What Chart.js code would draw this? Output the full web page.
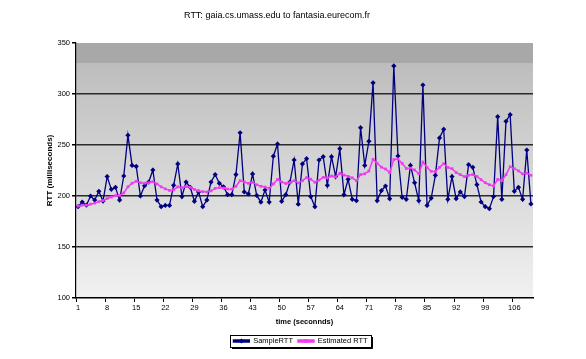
<!DOCTYPE html>
<html><head><meta charset="utf-8">
<style>html,body{margin:0;padding:0;background:#fff;}#wrap{width:586px;height:359px;}</style>
<script src="https://cdn.jsdelivr.net/npm/chart.js@4.4.0/dist/chart.umd.min.js"></script>
</head><body><div id="wrap"><canvas id="c" width="586" height="359"></canvas></div>
<script>
const chartTitle = 'RTT: gaia.cs.umass.edu to fantasia.eurecom.fr';
const xAxisTitle = 'time (seconnds)';
const yAxisTitle = 'RTT (milliseconds)';
const seriesNames = ['SampleRTT', 'Estimated RTT'];

const timeLabels = ['1','2','3','4','5','6','7','8','9','10','11','12','13','14','15','16','17','18','19','20',
'21','22','23','24','25','26','27','28','29','30','31','32','33','34','35','36','37','38','39','40',
'41','42','43','44','45','46','47','48','49','50','51','52','53','54','55','56','57','58','59','60',
'61','62','63','64','65','66','67','68','69','70','71','72','73','74','75','76','77','78','79','80',
'81','82','83','84','85','86','87','88','89','90','91','92','93','94','95','96','97','98','99','100',
'101','102','103','104','105','106','107','108','109','110'];

const shownTimeTicks = ['1','8','15','22','29','36','43','50','57','64','71','78','85','92','99','106'];
const yTickValues = [100, 150, 200, 250, 300, 350];

const sampleRTT = [189.5,194,191,200,196,204.6,195,219,206.5,208.5,
196,219.6,259.5,230,229,200,210,213.7,225.5,196,
189.5,190.8,190.8,210.5,231.4,199.4,213.7,208.5,194.8,204,
189.5,196,213.7,221,212.4,209,201.3,201.3,221,262,
204,202,221.6,200.6,194,205.9,194,239,251,194.8,
201.3,213.7,235.3,192,231.4,236.6,199.4,189.5,235.3,238.6,
210.5,238.6,219,246.4,201.3,216.3,196.7,195.4,267,230,
253.6,311,195.4,205.2,209.8,197.4,327.5,239.2,198.7,196.7,
230,213,195.4,308.8,190.8,198,220.3,256.9,265.4,196.7,
219,197.4,204,199.4,230.7,228.1,211.1,194.1,189.5,187.6,
199.4,277.8,196.7,273.2,279.7,204.6,208.5,196.7,245,192.2];

const estimatedRTT = [190,191,191,192,193,194.5,195.5,197.5,199,200.5,
200.5,203,209,212.5,214.5,213,212.5,213,214,211.8,
209,207,205.5,206,209,208.2,209.2,208.5,206.5,205,
204.3,204,205,207.5,208.3,207.8,206.8,206.7,209.5,215,
213.7,212.4,213.5,211,209.5,208.8,207.6,211.8,216.3,213.7,
212.2,213.2,215,212.8,215,218,216.5,213.5,215.5,218.3,
217.8,219.6,218.8,222.2,220.5,219.3,217.8,215,221,221.8,
224.5,236,232,228.3,226.5,222.9,235.8,236.3,232,226.9,
227.4,225.5,221.8,233.3,228,224.2,224,228.1,231.7,228,
226.8,223,221,219,220.3,221,219.2,216,213,211,
209.8,216.3,215,221,228.7,226.8,224.6,221.6,222.4,220.3];

const FONT = "'Liberation Sans', Arial, sans-serif";
const NAVY = '#000080';
const MAGENTA = '#f03cf0';

const plotBg = {
  id: 'plotBg',
  beforeDraw(chart) {
    const {ctx, chartArea: a} = chart;
    ctx.save();
    ctx.fillStyle = '#ffffff';
    ctx.fillRect(0, 0, chart.width, chart.height);
    const g = ctx.createLinearGradient(0, a.top, 0, a.bottom);
    g.addColorStop(0, '#a8a8a8');
    g.addColorStop(0.078, '#a8a8a8');
    g.addColorStop(0.08, '#bdbdbd');
    g.addColorStop(0.45, '#d3d3d3');
    g.addColorStop(1, '#f1f1f1');
    ctx.fillStyle = g;
    ctx.fillRect(a.left, a.top, a.right - a.left, a.bottom - a.top);
    ctx.restore();
  }
};

const TITLE_CENTER = 277;
const LEGEND_CENTER = 303;
const layoutFix = {
  id: 'layoutFix',
  afterLayout(chart) {
    const t = chart.titleBlock;
    if (t) { const dx = TITLE_CENTER - (t.left + t.right) / 2; t.left += dx; t.right += dx; }
    const lg = chart.legend;
    if (lg) {
      const p = lg.options.labels.padding;
      const dl = LEGEND_CENTER - (lg.left + p + lg.right) / 2;
      lg.left += dl; lg.right += dl;
    }
  },
  afterDraw(chart) {
    const lg = chart.legend;
    if (!lg || !lg.legendHitBoxes || !lg.legendHitBoxes.length) return;
    const ctx = chart.ctx;
    const hb = lg.legendHitBoxes;
    let l = Infinity, r = -Infinity, cy = 0;
    hb.forEach(h => { l = Math.min(l, h.left); r = Math.max(r, h.left + h.width); cy += h.top + h.height / 2; });
    cy /= hb.length;
    ctx.save();
    const bw = lg.options.labels.boxWidth;
    hb.forEach((h, i) => {
      const x = h.left + bw / 2, y = h.top + lg.options.labels.font.size / 2;
      ctx.fillStyle = i === 0 ? NAVY : MAGENTA;
      ctx.beginPath();
      if (i === 0) { ctx.moveTo(x, y - 2.6); ctx.lineTo(x + 2.6, y); ctx.lineTo(x, y + 2.6); ctx.lineTo(x - 2.6, y); ctx.closePath(); }
      else { ctx.rect(x - 1.8, y - 1.8, 3.6, 3.6); }
      ctx.fill();
    });
    const top = cy - 6.5, bot = cy + 5.5;
    ctx.strokeStyle = '#000';
    ctx.lineWidth = 1;
    const bx = Math.round(l - 3) + 0.5, bwid = Math.round(r - l + 7);
    ctx.strokeRect(bx, Math.round(top) + 0.5, bwid, Math.round(bot - top));
    ctx.beginPath();
    ctx.moveTo(bx + 1.5, Math.round(bot) + 1.5);
    ctx.lineTo(bx + bwid + 1, Math.round(bot) + 1.5);
    ctx.lineTo(bx + bwid + 1, Math.round(top) + 2);
    ctx.stroke();
    ctx.restore();
  }
};

Chart.defaults.font.family = FONT;
Chart.defaults.color = '#000';

new Chart(document.getElementById('c'), {
  type: 'line',
  data: {
    labels: timeLabels,
    datasets: [
      {
        label: seriesNames[0], data: sampleRTT, order: 1,
        borderColor: NAVY, backgroundColor: NAVY, borderWidth: 1.3,
        pointStyle: 'rectRot', pointRadius: 2.6, pointBorderWidth: 0,
        pointBackgroundColor: NAVY, tension: 0
      },
      {
        label: seriesNames[1], data: estimatedRTT, order: 0,
        borderColor: MAGENTA, backgroundColor: MAGENTA, borderWidth: 1.5,
        pointStyle: 'rect', pointRadius: 1.9, pointBorderWidth: 0,
        pointBackgroundColor: MAGENTA, tension: 0
      }
    ]
  },
  options: {
    responsive: false,
    animation: false,
    devicePixelRatio: 1,
    events: [],
    layout: { padding: { left: 0, right: 53, top: 0, bottom: 4.25 } },
    plugins: {
      tooltip: { enabled: false },
      title: {
        display: true, text: chartTitle, color: '#000',
        font: { size: 9, weight: 'normal', family: FONT },
        padding: { top: 10.6, bottom: 21.6 }
      },
      legend: {
        display: true, position: 'bottom',
        labels: {
          boxWidth: 16, boxHeight: 2, padding: 5, color: '#000',
          font: { size: 7.5, family: FONT },
          sort: (a, b) => a.datasetIndex - b.datasetIndex
        }
      }
    },
    scales: {
      x: {
        type: 'category',
        offset: true,
        afterFit: (s) => { s.height = 34.25; },
        grid: {
          offset: true, drawOnChartArea: false, drawTicks: true, tickLength: 4,
          color: (ctx) => (ctx.index % 7 === 0 ? '#000' : 'rgba(0,0,0,0)'),
          lineWidth: 1
        },
        border: { display: true, color: '#000', width: 1.5 },
        ticks: {
          autoSkip: false, maxRotation: 0, minRotation: 0, padding: 1,
          font: { size: 7.5, family: FONT }, color: '#000',
          callback: function (val, idx) { const l = timeLabels[idx]; return shownTimeTicks.includes(l) ? l : ''; }
        },
        title: {
          display: true, text: xAxisTitle, color: '#000',
          font: { size: 7.5, weight: 'bold', family: FONT },
          padding: { top: 0, bottom: 5.75 }
        }
      },
      y: {
        min: 100, max: 350,
        afterFit: (s) => { s.width = 76; },
        afterBuildTicks: (s) => { s.ticks = yTickValues.map(v => ({ value: v })); },
        grid: {
          drawTicks: true, tickLength: 4, tickColor: '#000',
          color: (ctx) => (ctx.tick && (ctx.tick.value === 100 || ctx.tick.value === 350) ? 'rgba(0,0,0,0)' : '#2a2a2a'),
          lineWidth: 1.5
        },
        border: { display: true, color: '#000', width: 1.2 },
        ticks: {
          padding: 2, font: { size: 7.5, family: FONT }, color: '#000'
        },
        title: {
          display: true, text: yAxisTitle, color: '#000',
          font: { size: 8, weight: 'bold', family: FONT },
          padding: { top: 45.2, bottom: 0 }
        }
      }
    }
  },
  plugins: [plotBg, layoutFix]
});
</script>
</body></html>
